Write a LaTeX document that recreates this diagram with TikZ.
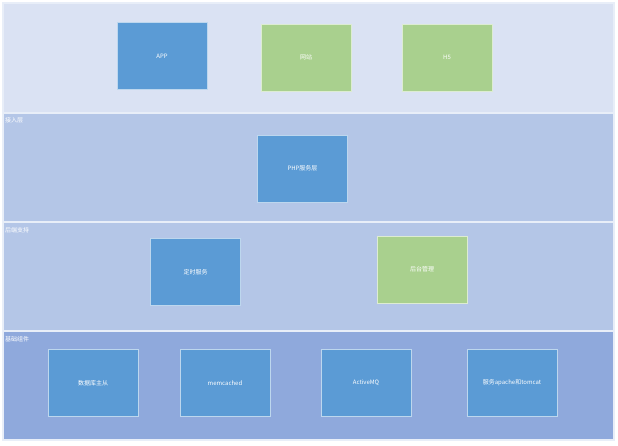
\documentclass[tikz,border=0pt]{standalone}
\usepackage{fontspec}
\setmainfont{Noto Sans CJK SC}
\definecolor{bandA}{HTML}{DAE2F3}
\definecolor{bandB}{HTML}{B4C6E7}
\definecolor{bandC}{HTML}{8FA9DC}
\definecolor{boxblue}{HTML}{5B9BD5}
\definecolor{boxgreen}{HTML}{A9D08E}
\begin{document}
\begin{tikzpicture}[x=1pt,y=-1pt,
  band/.style={draw=white!70!bandB, line width=1.2pt},
  bandlabel/.style={anchor=north west, inner sep=0pt, text=white, font=\fontsize{6}{7}\selectfont},
  blk/.style={draw=white!60!#1, line width=0.5pt, fill=#1, minimum width=90pt, minimum height=67pt, inner sep=0pt, text=white, font=\fontsize{6}{7}\selectfont},
  bluebox/.style={blk=boxblue},
  greenbox/.style={blk=boxgreen}]
\useasboundingbox (0,0) rectangle (618,445);
\fill[white] (0,0) rectangle (618,445);
% bands
\draw[band, fill=bandA] (3,3) rectangle (614,113);
\draw[band, fill=bandB] (3,113) rectangle (614,222);
\draw[band, fill=bandB] (3,222) rectangle (614,331);
\draw[band, fill=bandC] (3,331) rectangle (614,440);
\node[bandlabel] (l2) at (5,117) {接入层};
\node[bandlabel] (l3) at (5,227) {后端支持};
\node[bandlabel] (l4) at (5,336) {基础组件};
% row 1
\node[bluebox] (app) at (162,56) {APP};
\node[greenbox] (web) at (306,57.5) {网站};
\node[greenbox] (h5) at (447,57.5) {H5};
% row 2
\node[bluebox] (php) at (302.5,168.5) {PHP服务层};
% row 3
\node[bluebox] (timer) at (195.5,272) {定时服务};
\node[greenbox] (admin) at (422,269.5) {后台管理};
% row 4
\node[bluebox] (db) at (93,383) {数据库主从};
\node[bluebox] (mc) at (225,383) {memcached};
\node[bluebox] (mq) at (366,383) {ActiveMQ};
\node[bluebox] (srv) at (512,383) {服务apache和tomcat};
\end{tikzpicture}
\end{document}
